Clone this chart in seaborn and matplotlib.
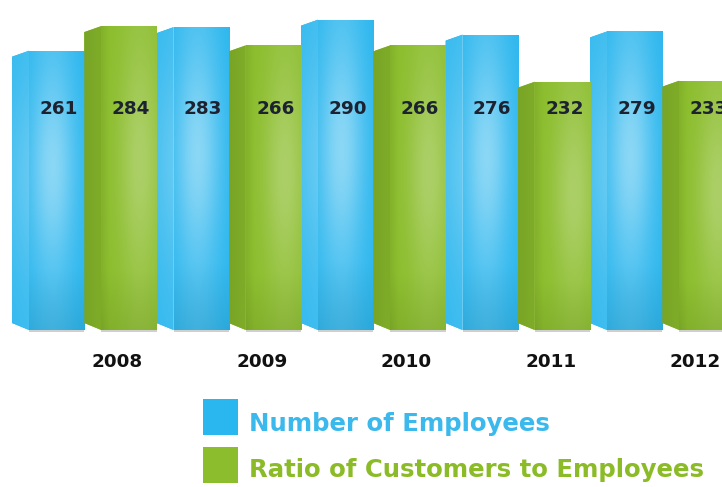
import numpy as np
import pandas as pd
import seaborn as sns
import matplotlib.pyplot as plt
from matplotlib.patches import Polygon, Rectangle
from matplotlib.colors import to_rgb

# ---- data ----
years = ["2008", "2009", "2010", "2011", "2012"]
employees = [261, 283, 290, 276, 279]
ratio = [284, 266, 266, 232, 233]
series = ["Number of Employees", "Ratio of Customers to Employees"]
bar_colors = ["#2AB6EE", "#8BBD2C"]
text_colors = ["#3BB9EC", "#8CBB28"]

df = pd.DataFrame({
    "year": years * 2,
    "series": [series[0]] * len(years) + [series[1]] * len(years),
    "value": employees + ratio,
})

sns.set_theme(style="white")
plt.rcParams["font.family"] = ["DejaVu Sans"]

W, H = 722, 487
fig = plt.figure(figsize=(W / 100, H / 100), dpi=100)
ax = fig.add_axes([0, 0, 1, 1])

sns.barplot(data=df, x="year", y="value", hue="series", order=years,
            hue_order=series, palette=dict(zip(series, bar_colors)),
            width=1.0, dodge=True, saturation=1, errorbar=None,
            legend=False, ax=ax, zorder=2)

# axis scaling: 144.5 px per year group, 1.07 px per value unit
px_x = 144.5
px_y = 1.07
base_px = 330          # pixel row of the zero line
left_px = 12           # left edge of first group
x_lo = -0.5 - left_px / px_x
y_hi = base_px / px_y
y_lo = -(H - base_px) / px_y
xlim = (x_lo, x_lo + W / px_x)
ylim = (y_lo, y_hi)

side = 17 / px_x       # width of the receding side face
d_top = 6 / px_y
d_bot = 7 / px_y


def gradient_fill(artist, rgb, x0, x1, y0, y1, kind):
    u = np.linspace(0, 1, 80)
    v = np.linspace(0, 1, 160)
    U, V = np.meshgrid(u, v)
    c = np.array(to_rgb(rgb))
    if kind == "front_blue":
        gx = np.exp(-((U - 0.42) / 0.42) ** 2)
        gy = 0.25 + 0.75 * np.exp(-((V - 0.58) / 0.34) ** 2)
        t = 0.45 * gx * gy
        dark = 0.08 * np.clip(0.22 - V, 0, None) / 0.22
    elif kind == "front_green":
        gx = np.exp(-((U - 0.7) / 0.38) ** 2)
        gy = 0.25 + 0.75 * np.exp(-((V - 0.55) / 0.35) ** 2)
        t = 0.28 * gx * gy
        dark = 0.07 * np.clip(0.2 - V, 0, None) / 0.2 + 0.06 * np.clip(0.15 - U, 0, None) / 0.15
    elif kind == "side_blue":
        gy = 0.3 + 0.7 * np.exp(-((V - 0.55) / 0.35) ** 2)
        t = 0.28 * gy * (0.6 + 0.4 * U)
        dark = 0.0 * U
    else:  # side_green
        t = 0.0 * U
        dark = 0.09 + 0.04 * (1 - U)
    img = c[None, None, :] * (1 - t[..., None]) + t[..., None]
    img = img * (1 - dark[..., None])
    img = np.clip(img, 0, 1)
    im = ax.imshow(img, extent=(x0, x1, y0, y1), origin="lower",
                   aspect="auto", interpolation="bilinear", zorder=3)
    im.set_clip_path(artist)


for k, cont in enumerate(ax.containers):
    rgb = bar_colors[k]
    tag = "blue" if k == 0 else "green"
    for p in cont.patches:
        x, w, h = p.get_x(), p.get_width(), p.get_height()
        # front face occupies the right part of the slot
        p.set_x(x + side)
        p.set_width(w - side)
        p.set_edgecolor("none")
        gradient_fill(p, rgb, x + side, x + w, 0, h, "front_" + tag)
        # receding side face on the left
        poly = Polygon([(x, h - d_top), (x + side, h), (x + side, 0), (x, d_bot)],
                       closed=True, facecolor=rgb, edgecolor="none", zorder=2)
        ax.add_patch(poly)
        gradient_fill(poly, rgb, x, x + side, 0, h, "side_" + tag)
        # soft shadow under the bar
        ax.fill_between([x + side, x + w], -2.2 / px_y, 0, color="#cfcfcf",
                        lw=0, zorder=1)
        # value label on the front face
        ax.text(x + side + (w - side) / 2 + 2 / px_x, (base_px - 109.5) / px_y,
                f"{h:.0f}", ha="center", va="center", fontsize=13.2,
                fontweight="bold", color="#1D2231", zorder=5)

# year labels under the second bar of each group
for i, yr in enumerate(years):
    ax.text(i + 0.25 - 3 / px_x, -(362 - base_px) / px_y, yr, ha="center",
            va="center", fontsize=13.2, fontweight="bold", color="#111111", zorder=5)

ax.set_xlim(*xlim)
ax.set_ylim(*ylim)
ax.axis("off")

# legend: colour swatches with coloured labels
sw_x, sw_w, sw_h = 203, 35, 36
sw_tops = [399, 447]
baselines = [431, 477]
for col, tcol, lab, top, bl in zip(bar_colors, text_colors, series, sw_tops, baselines):
    fig.add_artist(Rectangle((sw_x / W, 1 - (top + sw_h) / H), sw_w / W, sw_h / H,
                             transform=fig.transFigure, facecolor=col,
                             edgecolor="none"))
    fig.text(249 / W, 1 - bl / H, lab, ha="left", va="baseline",
             fontsize=17.6, fontweight="bold", color=tcol)

fig.savefig("out.png", dpi=100, facecolor="white")
